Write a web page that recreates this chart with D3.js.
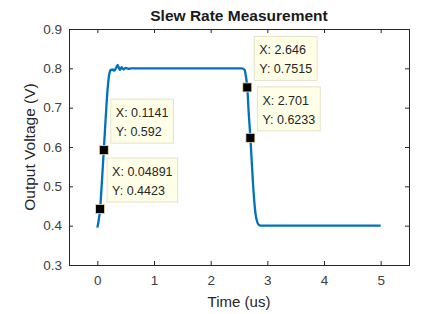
<!DOCTYPE html>
<html>
<head>
<meta charset="utf-8">
<script src="https://cdn.jsdelivr.net/npm/d3@7"></script>
<style>
  body { margin: 0; background: #fff; }
  text { font-family: "Liberation Sans", Arial, sans-serif; }
</style>
</head>
<body>
<div id="chart"></div>
<script>
// waveform
const timeUs = [0, 0.02, 0.04891, 0.08, 0.1141, 0.15, 0.18, 0.21, 0.24, 0.27, 0.30, 0.33, 0.36, 0.38, 0.40, 0.43, 0.46, 0.50, 0.55, 0.60, 0.70, 1.0, 2.0, 2.55, 2.60, 2.62, 2.646, 2.67, 2.701, 2.73, 2.76, 2.79, 2.82, 2.85, 2.88, 2.92, 3.0, 4.0, 5.0]
const voltage = [0.395, 0.41, 0.4423, 0.51, 0.592, 0.68, 0.745, 0.785, 0.796, 0.797, 0.794, 0.801, 0.809, 0.801, 0.796, 0.803, 0.797, 0.801, 0.799, 0.800, 0.800, 0.800, 0.800, 0.800, 0.796, 0.781, 0.7515, 0.69, 0.6233, 0.55, 0.48, 0.432, 0.41, 0.402, 0.400, 0.400, 0.400, 0.400, 0.400]

// data tips
const tipX = [0.1141, 0.04891, 2.646, 2.701]
const tipY = [0.592, 0.4423, 0.7515, 0.6233]
const tipLabelX = ['0.1141', '0.04891', '2.646', '2.701']
const tipLabelY = ['0.592', '0.4423', '0.7515', '0.6233']

const xTicks = [0, 1, 2, 3, 4, 5]
const yTicks = [0.3, 0.4, 0.5, 0.6, 0.7, 0.8, 0.9]

const W = 431, H = 314
const margin = { top: 29, right: 22, bottom: 49, left: 69 },
  width = W - margin.left - margin.right,
  height = H - margin.top - margin.bottom

const svg = d3.select('#chart').append('svg').attr('width', W).attr('height', H)
const g = svg.append('g').attr('transform', `translate(${margin.left},${margin.top})`)

const x = d3.scaleLinear().domain([-0.5, 5.5]).range([0, width])
const y = d3.scaleLinear().domain([0.3, 0.9]).range([height, 0])

const axisColor = '#262626'
const tickLen = 4

function styleAxis(sel) {
  sel.select('.domain').remove()
  sel.selectAll('line').attr('stroke', axisColor)
  sel.selectAll('text').attr('fill', '#404040').style('font-size', '13.5px')
}

g.append('g').attr('transform', `translate(0,${height})`)
  .call(d3.axisBottom(x).tickValues(xTicks).tickSize(-tickLen).tickPadding(10).tickFormat(d3.format('d')))
  .call(styleAxis)
g.append('g')
  .call(d3.axisTop(x).tickValues(xTicks).tickSize(-tickLen).tickFormat(''))
  .call(styleAxis)
g.append('g')
  .call(d3.axisLeft(y).tickValues(yTicks).tickSize(-tickLen).tickPadding(7).tickFormat(d3.format('.1f')))
  .call(styleAxis)
g.append('g').attr('transform', `translate(${width},0)`)
  .call(d3.axisRight(y).tickValues(yTicks).tickSize(-tickLen).tickFormat(''))
  .call(styleAxis)

// box
g.append('rect').attr('width', width).attr('height', height)
  .attr('fill', 'none').attr('stroke', axisColor).attr('stroke-width', 1)
  .attr('shape-rendering', 'crispEdges')

// curve
const pts = timeUs.map((t, i) => [t, voltage[i]])
g.append('path').datum(pts)
  .attr('fill', 'none').attr('stroke', '#0072BD').attr('stroke-width', 2.3)
  .attr('stroke-linejoin', 'round')
  .attr('d', d3.line().x(d => x(d[0])).y(d => y(d[1])).curve(d3.curveMonotoneX))

// data tip markers and boxes
const mSize = 9
tipX.forEach((tx, i) => {
  const cx = x(tx), cy = y(tipY[i])
  const tip = g.append('g')
  const txt = tip.append('text').attr('fill', '#262626').style('font-size', '12.5px')
  txt.append('tspan').attr('x', cx + 12).attr('y', cy - 33).text('X: ' + tipLabelX[i])
  txt.append('tspan').attr('x', cx + 12).attr('y', cy - 14).text('Y: ' + tipLabelY[i])
  const bw = txt.node().getBBox().width + 10
  tip.insert('rect', 'text')
    .attr('x', cx + 7).attr('y', cy - 51).attr('width', bw).attr('height', 44)
    .attr('fill', '#FFFFE8').attr('stroke', '#E6E2C8').attr('stroke-width', 1)
  g.append('rect')
    .attr('x', cx - mSize / 2).attr('y', cy - mSize / 2).attr('width', mSize).attr('height', mSize)
    .attr('fill', '#000').attr('stroke', '#E8E2B0').attr('stroke-width', 0.8)
})

// labels
svg.append('text').attr('x', margin.left + width / 2).attr('y', 21)
  .attr('text-anchor', 'middle').style('font-size', '15.5px').style('font-weight', 'bold')
  .attr('fill', '#1a1a1a').text('Slew Rate Measurement')
svg.append('text').attr('x', margin.left + width / 2).attr('y', 307)
  .attr('text-anchor', 'middle').style('font-size', '15px').attr('fill', '#262626')
  .text('Time (us)')
svg.append('text').attr('transform', `translate(35,${margin.top + height / 2}) rotate(-90)`)
  .attr('text-anchor', 'middle').style('font-size', '15.5px').attr('fill', '#262626')
  .text('Output Voltage (V)')
</script>
</body>
</html>
